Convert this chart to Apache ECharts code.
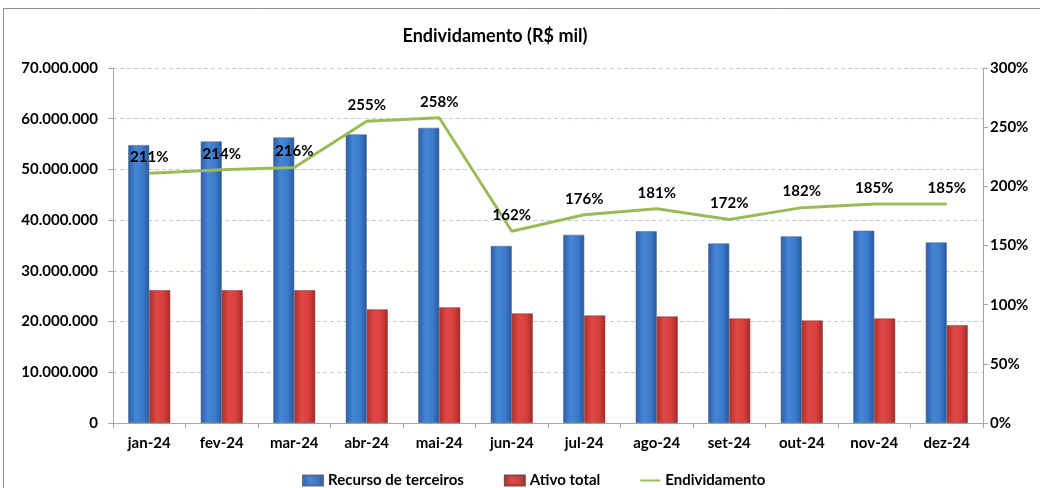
<!DOCTYPE html>
<html>
<head>
<meta charset="utf-8">
<script src="https://cdn.jsdelivr.net/npm/echarts@6/dist/echarts.min.js"></script>
<style>
html,body{margin:0;padding:0;background:#fff;}
#c{width:1040px;height:488px;}
</style>
</head>
<body>
<div id="c"></div>
<script>
const categories = ['jan-24','fev-24','mar-24','abr-24','mai-24','jun-24','jul-24','ago-24','set-24','out-24','nov-24','dez-24'];
const recursoTerceiros = [54800000, 55500000, 56300000, 56900000, 58200000, 34900000, 37100000, 37800000, 35400000, 36800000, 37900000, 35600000];
const ativoTotal = [26200000, 26200000, 26200000, 22400000, 22800000, 21600000, 21200000, 21000000, 20600000, 20200000, 20600000, 19300000];
const endividamento = [211, 214, 216, 255, 258, 162, 176, 181, 172, 182, 185, 185];

const FONT = 'Lato';
const chart = echarts.init(document.getElementById('c'), null, {renderer: 'canvas'});

function fmtThousands(v) {
  return String(Math.round(v)).replace(/\B(?=(\d{3})+(?!\d))/g, '.');
}

const blueGrad = new echarts.graphic.LinearGradient(0, 0, 1, 0, [
  {offset: 0, color: '#2a5ea8'},
  {offset: 0.35, color: '#4686d6'},
  {offset: 0.7, color: '#3c7acb'},
  {offset: 1, color: '#27579c'}
]);
const redGrad = new echarts.graphic.LinearGradient(0, 0, 1, 0, [
  {offset: 0, color: '#b32c29'},
  {offset: 0.35, color: '#e04844'},
  {offset: 0.7, color: '#d63f3b'},
  {offset: 1, color: '#a82825'}
]);

chart.setOption({
  backgroundColor: '#fff',
  animation: false,
  textStyle: {fontFamily: FONT},
  title: {
    text: 'Endividamento (R$ mil)',
    left: 490, top: 22, textAlign: 'center',
    textStyle: {fontFamily: FONT, fontWeight: 'bold', fontSize: 18, color: '#000'}
  },
  graphic: [{
    type: 'rect', silent: true, z: -1,
    shape: {x: 3.5, y: 8.5, width: 1100, height: 600},
    style: {fill: 'none', stroke: '#8c8c8c', lineWidth: 1}
  }],
  legend: {
    left: 297, top: 468,
    itemGap: 40, itemWidth: 20, itemHeight: 10,
    textStyle: {fontFamily: FONT, fontWeight: 'bold', fontSize: 15, color: '#000'},
    data: [
      {name: 'Recurso de terceiros', icon: 'rect'},
      {name: 'Ativo total', icon: 'rect'},
      {name: 'Endividamento', icon: 'path://M0,4 L20,4 L20,6 L0,6 Z'}
    ]
  },
  grid: {left: 113, right: 57, top: 68, bottom: 65, containLabel: false},
  xAxis: {
    type: 'category',
    data: categories,
    boundaryGap: true,
    axisLine: {lineStyle: {color: '#a6a6a6', width: 1}},
    axisTick: {show: true, length: 5, lineStyle: {color: '#a6a6a6'}},
    axisLabel: {fontFamily: FONT, fontWeight: 'bold', fontSize: 15, color: '#000', margin: 13}
  },
  yAxis: [{
    type: 'value', min: 0, max: 70000000, interval: 10000000,
    axisLine: {show: true, lineStyle: {color: '#a6a6a6'}},
    axisTick: {show: true, length: 5, lineStyle: {color: '#a6a6a6'}},
    axisLabel: {fontFamily: FONT, fontWeight: 'bold', fontSize: 15, color: '#000', margin: 15,
      formatter: v => fmtThousands(v)},
    splitLine: {show: true, lineStyle: {color: '#b9cde5', type: [4, 3], width: 1}}
  }, {
    type: 'value', min: 0, max: 300, interval: 50,
    position: 'right',
    axisLine: {show: true, lineStyle: {color: '#a6a6a6'}},
    axisTick: {show: true, length: 5, lineStyle: {color: '#a6a6a6'}},
    axisLabel: {fontFamily: FONT, fontWeight: 'bold', fontSize: 15, color: '#000', margin: 7,
      formatter: v => v + '%'},
    splitLine: {show: false}
  }],
  series: [{
    name: 'Recurso de terceiros',
    type: 'bar',
    data: recursoTerceiros,
    barWidth: 21,
    barGap: '0%',
    itemStyle: {color: blueGrad, borderColor: '#5a6a80', borderWidth: 0.6},
    z: 2
  }, {
    name: 'Ativo total',
    type: 'bar',
    data: ativoTotal,
    barWidth: 21,
    barGap: '0%',
    itemStyle: {color: redGrad, borderColor: '#7a4a4a', borderWidth: 0.6},
    z: 2
  }, {
    name: 'Endividamento',
    type: 'line',
    yAxisIndex: 1,
    data: endividamento,
    symbol: 'circle',
    symbolSize: 1,
    showSymbol: true,
    lineStyle: {color: '#9bbb59', width: 3},
    itemStyle: {color: '#9bbb59'},
    z: 5,
    labelLayout: {hideOverlap: false},
    label: {
      show: true, position: 'top', distance: 8,
      formatter: p => p.value + '%',
      fontFamily: FONT, fontWeight: 'bold', fontSize: 15, color: '#000'
    }
  }]
});
</script>
</body>
</html>
